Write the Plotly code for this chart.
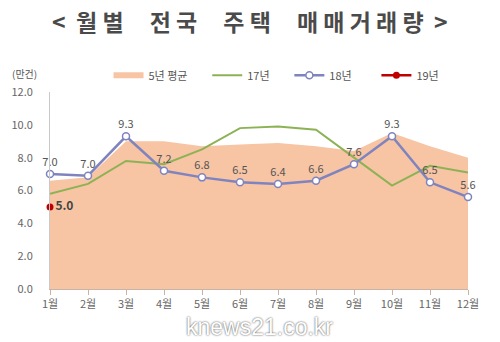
import plotly.graph_objects as go

months = ["1월", "2월", "3월", "4월", "5월", "6월", "7월", "8월", "9월", "10월", "11월", "12월"]
avg5 = [6.6, 6.8, 9.0, 9.0, 8.7, 8.8, 8.9, 8.7, 8.4, 9.5, 8.7, 8.0]
y17 = [5.8, 6.4, 7.8, 7.6, 8.5, 9.8, 9.9, 9.7, 8.0, 6.3, 7.5, 7.1]
y18 = [7.0, 6.9, 9.3, 7.2, 6.8, 6.5, 6.4, 6.6, 7.6, 9.3, 6.5, 5.6]
y18_labels = ["7.0", "7.0", "9.3", "7.2", "6.8", "6.5", "6.4", "6.6", "7.6", "9.3", "6.5", "5.6"]
y19 = [5.0]
y19_labels = ["5.0"]
y_ticks = [0, 2, 4, 6, 8, 10, 12]

x = list(range(len(months)))
font_family = "Noto Sans CJK KR, Noto Sans, sans-serif"

fig = go.Figure()
fig.add_trace(go.Scatter(x=x, y=avg5, mode="none", fill="tozeroy",
                         fillcolor="#F7C4A4", name="5년 평균      "))
fig.add_trace(go.Scatter(x=x, y=y17, mode="lines", line=dict(color="#8DB255", width=2),
                         name="17년      "))
fig.add_trace(go.Scatter(x=x, y=y18, mode="lines+markers+text", name="18년        ",
                         line=dict(color="#7F84BE", width=2.5),
                         marker=dict(symbol="circle", size=7, color="white",
                                     line=dict(color="#7F84BE", width=1.5)),
                         text=y18_labels, textposition="top center", cliponaxis=False,
                         textfont=dict(size=11, color="#555555")))
fig.add_trace(go.Scatter(x=x[:1], y=y19, mode="lines+markers+text", name="19년",
                         line=dict(color="#C00000", width=2.5),
                         marker=dict(symbol="circle", size=7, color="#C00000"),
                         text=["<b>" + y19_labels[0] + "</b>"], textposition="middle right",
                         cliponaxis=False,
                         textfont=dict(size=12, color="#444444")))

fig.update_layout(
    width=500, height=342,
    margin=dict(l=50, r=32, t=92, b=53),
    paper_bgcolor="white", plot_bgcolor="white",
    font=dict(family=font_family, color="#555555"),
    showlegend=True,
    legend=dict(orientation="h", x=0.14, xanchor="left", y=1.085, yanchor="middle",
                font=dict(size=11, color="#555555"), itemwidth=30,
                bgcolor="rgba(0,0,0,0)"),
    xaxis=dict(range=[0, 11], tickmode="array", tickvals=x, ticktext=months,
               showgrid=False, zeroline=False, showline=True, linecolor="#C9B3A5",
               ticks="outside", ticklen=5, tickcolor="#C9B3A5",
               tickfont=dict(size=11, color="#666666"), fixedrange=True),
    yaxis=dict(range=[0, 12], tickvals=y_ticks, ticktext=[f"{v:.1f}" for v in y_ticks],
               showgrid=False, zeroline=False, showline=True, linecolor="#C8C8C8",
               ticks="", ticklabelstandoff=14,
               tickfont=dict(size=11, color="#666666")),
)

fig.add_annotation(text="<b>&lt;  월 별     전 국     주 택     매 매 거 래 량  &gt;</b>",
                   xref="paper", yref="paper",
                   x=0.5, y=0, xanchor="center", yanchor="middle", showarrow=False,
                   font=dict(size=23, color="#4A4A4A"),
                   xshift=-9, yshift=342 - 53 - 21)
fig.add_annotation(text="(만건)", xref="paper", yref="paper", x=0, y=1,
                   xanchor="center", yanchor="middle", showarrow=False,
                   font=dict(size=10, color="#555555"), xshift=-26, yshift=19)
fig.add_annotation(text="knews21.co.kr", xref="paper", yref="paper", x=0.5, y=0,
                   xanchor="center", yanchor="middle", showarrow=False,
                   font=dict(size=23, color="white", family="Liberation Sans, sans-serif",
                             shadow="0px 0px 2px #333333"),
                   xshift=0, yshift=-38)

fig.write_html("out.html")
